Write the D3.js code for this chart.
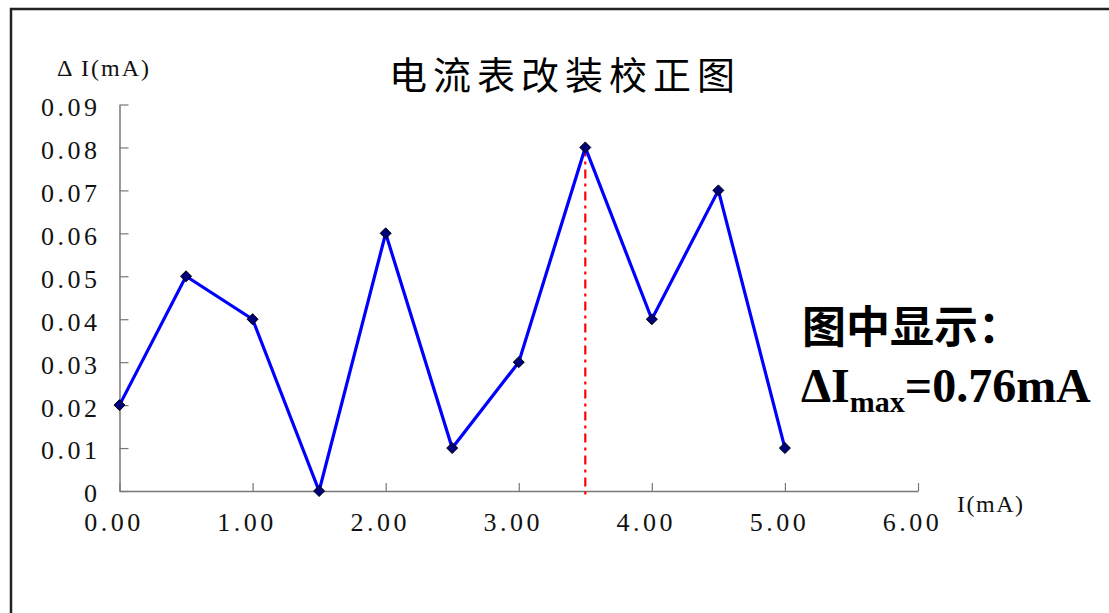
<!DOCTYPE html>
<html><head><meta charset="utf-8">
<script src="https://cdn.jsdelivr.net/npm/d3@7"></script>
<style>body{margin:0;background:#fff}svg{display:block}</style>
</head><body>
<svg id="c" width="1109" height="613"></svg>
<script>
const xValues = [0, 0.5, 1.0, 1.5, 2.0, 2.5, 3.0, 3.5, 4.0, 4.5, 5.0];
const deltaI = [0.02, 0.05, 0.04, 0, 0.06, 0.01, 0.03, 0.08, 0.04, 0.07, 0.01];
const xTicks = [0, 1, 2, 3, 4, 5, 6];
const yTicks = [0, 0.01, 0.02, 0.03, 0.04, 0.05, 0.06, 0.07, 0.08, 0.09];
const maxPoint = {x: 3.5, y: 0.08};
const title = "电流表改装校正图";
const note1 = "图中显示：";

const svg = d3.select("#c");
// frame
svg.append("path").attr("d","M11,613 L11,9 L1109,9").attr("fill","none").attr("stroke","#222").attr("stroke-width",2.5);

const x = d3.scaleLinear().domain([0,6]).range([119.5,918]);
const y = d3.scaleLinear().domain([0,0.09]).range([491,104.5]);
const serif = "'Liberation Serif','DejaVu Serif',serif";

const gx = svg.append("g").attr("transform","translate(0,491)")
  .call(d3.axisBottom(x).tickValues(xTicks).tickSize(-8).tickSizeOuter(0).tickFormat(d=>d3.format(".2f")(d)));
const gy = svg.append("g").attr("transform","translate(119.5,0)")
  .call(d3.axisLeft(y).tickValues(yTicks).tickSize(-9).tickSizeOuter(0).tickFormat(d=>d===0?"0":d3.format(".2f")(d)));
[gx,gy].forEach(g=>{
  g.select(".domain").attr("stroke","#777").attr("stroke-width",1.5);
  g.selectAll(".tick line").attr("stroke","#777").attr("stroke-width",1.2);
  g.selectAll(".tick text").attr("fill","#111").style("font-family",serif).style("font-size","26px").style("letter-spacing","3.5px");
});
gx.selectAll(".tick text").attr("dy","0").attr("y",40).attr("x",-6);
gy.selectAll(".tick text").attr("x",-19).attr("dy","0.42em");

// red dash-dot
svg.append("line").attr("x1",x(maxPoint.x)).attr("x2",x(maxPoint.x))
  .attr("y1",y(maxPoint.y)).attr("y2",499)
  .attr("stroke","#f00").attr("stroke-width",2.2).attr("stroke-dasharray","9,5,3,5");

const pts = xValues.map((v,i)=>[v,deltaI[i]]);
svg.append("path").datum(pts)
  .attr("d",d3.line().x(d=>x(d[0])).y(d=>y(d[1])))
  .attr("fill","none").attr("stroke","#0000ff").attr("stroke-width",3.2);
svg.selectAll(".m").data(pts).join("path")
  .attr("transform",d=>`translate(${x(d[0])},${y(d[1])})`)
  .attr("d","M0,-5.5L5.5,0L0,5.5L-5.5,0Z")
  .attr("fill","#00007a").attr("stroke","#000").attr("stroke-width",1);

// title
svg.append("text").attr("x",565).attr("y",89).attr("text-anchor","middle")
  .style("font-family","'Noto Sans CJK SC',sans-serif").style("font-size","38px").style("letter-spacing","6px")
  .attr("fill","#000").text(title);

// axis labels
svg.append("text").attr("x",57).attr("y",76).style("font-family",serif).style("font-size","24px").style("letter-spacing","2px").attr("fill","#111")
  .text("Δ I(mA)");
svg.append("text").attr("x",957).attr("y",512).style("font-family",serif).style("font-size","24px").style("letter-spacing","1.5px").attr("fill","#111")
  .text("I(mA)");

// annotation
svg.append("text").attr("x",802).attr("y",343).style("font-family","'Noto Sans CJK SC',sans-serif")
  .style("font-size","44px").style("font-weight","700").attr("fill","#000").text(note1);
const t2 = svg.append("text").attr("x",801).attr("y",402).style("font-family",serif)
  .style("font-weight","700").attr("fill","#000");
t2.append("tspan").style("font-size","48px").text("ΔI");
t2.append("tspan").style("font-size","30px").attr("dy",10).text("max");
t2.append("tspan").style("font-size","48px").attr("dy",-10).text("=0.76mA");
</script>
</body></html>
